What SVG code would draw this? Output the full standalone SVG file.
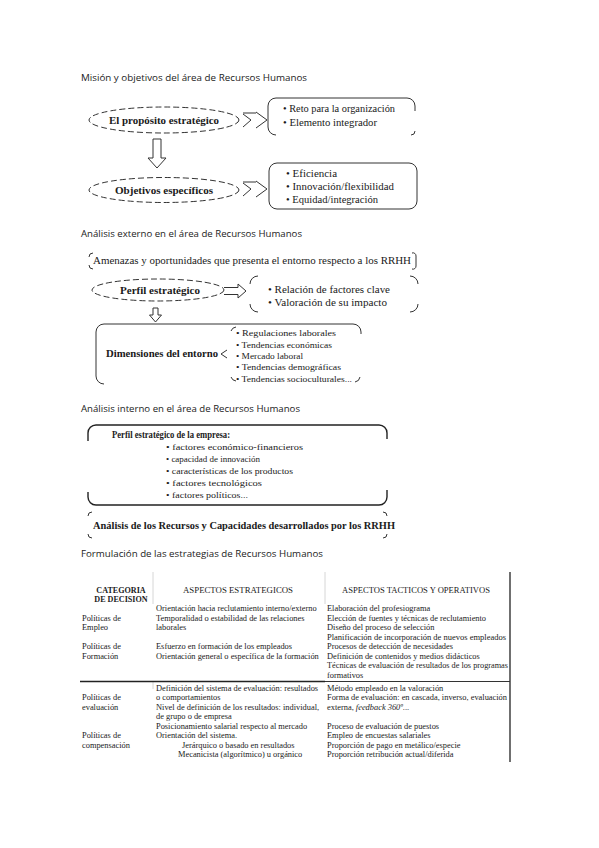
<svg xmlns="http://www.w3.org/2000/svg" width="599" height="848" viewBox="0 0 599 848">
<style>
.t{font-family:"Open Sans","Liberation Sans",sans-serif;font-size:9px;fill:#222}
.s{font-family:"Liberation Serif","Times New Roman",serif;fill:#1a1a1a}
.b{font-weight:bold}
.f10{font-size:10px}
.f105{font-size:10.5px}
.f9{font-size:9px}
.tb{font-size:8.4px}
.th{font-size:8.1px}
.dash{fill:none;stroke:#333;stroke-width:1;stroke-dasharray:6 3}
.ln{fill:none;stroke:#333;stroke-width:1}
.lnk{fill:none;stroke:#222;stroke-width:1.4}
.faint{stroke:#ccc;stroke-width:0.8}
</style>
<rect width="599" height="848" fill="#fff"/>

<!-- Section 1 -->
<text class="t" x="81" y="81" textLength="226" lengthAdjust="spacingAndGlyphs">Misión y objetivos del área de Recursos Humanos</text>
<g id="proposito">
<ellipse class="dash" cx="164" cy="120" rx="75" ry="13"/>
<text class="s b f10" x="164" y="124" text-anchor="middle" textLength="110" lengthAdjust="spacingAndGlyphs">El propósito estratégico</text>
</g>
<g id="reto">
<path class="ln" d="M276,135 A8,8 0 0 1 268,127 L268,106 A8,8 0 0 1 276,98 L407,98 A8,8 0 0 1 415,106 L415,111 M415,131 A4,4 0 0 1 411,135"/>
<text class="s f10" x="283" y="112" textLength="112" lengthAdjust="spacingAndGlyphs">• Reto para la organización</text>
<text class="s f10" x="283" y="126" textLength="94" lengthAdjust="spacingAndGlyphs">• Elemento integrador</text>
</g>
<g id="objetivos">
<ellipse class="dash" cx="164" cy="190" rx="75" ry="12.5"/>
<text class="s b f10" x="164" y="194" text-anchor="middle" textLength="98" lengthAdjust="spacingAndGlyphs">Objetivos específicos</text>
</g>
<g id="eficiencia">
<rect class="ln" x="269" y="163" width="148" height="46" rx="8"/>
<text class="s f10" x="286" y="177" textLength="51" lengthAdjust="spacingAndGlyphs">• Eficiencia</text>
<text class="s f10" x="286" y="190" textLength="108" lengthAdjust="spacingAndGlyphs">• Innovación/flexibilidad</text>
<text class="s f10" x="286" y="203" textLength="92" lengthAdjust="spacingAndGlyphs">• Equidad/integración</text>
</g>

<!-- Section 2 -->
<text class="t" x="81" y="237" textLength="221" lengthAdjust="spacingAndGlyphs">Análisis externo en el área de Recursos Humanos</text>
<g id="amenazas">
<path class="ln" d="M93,253 A4,4 0 0 0 89,257 M89,265 A4,4 0 0 0 93,269 M412,253 A3,3 0 0 1 416,256 L416,266 A3,3 0 0 1 412,269"/>
<text class="s f105" x="93" y="264" textLength="318" lengthAdjust="spacingAndGlyphs">Amenazas y oportunidades que presenta el entorno respecto a los RRHH</text>
</g>
<g id="perfil">
<ellipse class="dash" cx="158" cy="290" rx="66" ry="11"/>
<text class="s b f10" x="160" y="294" text-anchor="middle" textLength="80" lengthAdjust="spacingAndGlyphs">Perfil estratégico</text>
</g>
<g id="factores">
<path class="ln" d="M250,284 A8,8 0 0 1 258,276 M410,276 A8,8 0 0 1 418,284 M250,304 A8,8 0 0 0 258,312 M418,304 A8,8 0 0 1 410,312"/>
<text class="s f105" x="268" y="293" textLength="122" lengthAdjust="spacingAndGlyphs">• Relación de factores clave</text>
<text class="s f105" x="268" y="306" textLength="119" lengthAdjust="spacingAndGlyphs">• Valoración de su impacto</text>
</g>
<g id="dimensiones">
<path class="ln" d="M104,384 A8,8 0 0 1 96,376 L96,332 A8,8 0 0 1 104,324 L353,324 A8,8 0 0 1 361,332 L361,334"/>
<text class="s b f10" x="106" y="357" textLength="112" lengthAdjust="spacingAndGlyphs">Dimensiones del entorno</text>
<path class="ln" d="M227,350 L221,354 L227,358"/>
<path class="ln" d="M236,327 A6,6 0 0 0 231,331 M231,377 A6,6 0 0 0 236,381 M355,382 A6,6 0 0 0 360,377"/>
<text class="s f9" x="236" y="336" textLength="100" lengthAdjust="spacingAndGlyphs">• Regulaciones laborales</text>
<text class="s f9" x="236" y="347.5" textLength="96" lengthAdjust="spacingAndGlyphs">• Tendencias económicas</text>
<text class="s f9" x="236" y="358.5" textLength="67" lengthAdjust="spacingAndGlyphs">• Mercado laboral</text>
<text class="s f9" x="236" y="370" textLength="105" lengthAdjust="spacingAndGlyphs">• Tendencias demográficas</text>
<text class="s f9" x="236" y="381.5" textLength="116" lengthAdjust="spacingAndGlyphs">• Tendencias socioculturales...</text>
</g>

<!-- Section 3 -->
<text class="t" x="81" y="412" textLength="219" lengthAdjust="spacingAndGlyphs">Análisis interno en el área de Recursos Humanos</text>
<g id="perfil-empresa">
<path class="lnk" d="M88,441 L88,433 A8,8 0 0 1 96,425 L379,425 A8,8 0 0 1 387,433 L387,439 M88,492 L88,497 A8,8 0 0 0 96,505 L379,505 A8,8 0 0 0 387,497 L387,490"/>
<text class="s b f10" x="112" y="438" textLength="118" lengthAdjust="spacingAndGlyphs">Perfil estratégico de la empresa:</text>
<text class="s f9" x="166" y="449.5" textLength="137" lengthAdjust="spacingAndGlyphs">• factores económico-financieros</text>
<text class="s f9" x="166" y="461.5" textLength="94" lengthAdjust="spacingAndGlyphs">• capacidad de innovación</text>
<text class="s f9" x="166" y="473.5" textLength="127" lengthAdjust="spacingAndGlyphs">• características de los productos</text>
<text class="s f9" x="166" y="485.5" textLength="96" lengthAdjust="spacingAndGlyphs">• factores tecnológicos</text>
<text class="s f9" x="166" y="497.5" textLength="82" lengthAdjust="spacingAndGlyphs">• factores políticos...</text>
</g>
<g id="analisis-recursos">
<path class="ln" d="M88,516 A4,4 0 0 1 92,512 M383,512 A4,4 0 0 1 387,516 M88,534 A4,4 0 0 0 92,538 M387,534 A4,4 0 0 1 383,538"/>
<text class="s b f10" x="93" y="529" textLength="302" lengthAdjust="spacingAndGlyphs">Análisis de los Recursos y Capacidades desarrollados por los RRHH</text>
</g>

<!-- connectors -->
<g id="connectors">
<path class="ln" d="M243,113 L256,113 M256,112 L267,120 L256,128 M243,114 L251,120 L243,127"/>
<path class="ln" d="M243,182 L256,182 M256,181 L267,189 L256,197 M243,183 L251,189 L243,196"/>
<polygon class="ln" points="153,139 161,139 161,158 166,158 157,168 148,158 153,158"/>
<path class="ln" d="M224,287.5 L238,287.5 L238,284 L246,291 L238,298 L238,294.5 L224,294.5"/>
<polygon class="ln" points="153,308 158,308 158,315 161.5,315 155.5,322 149.5,315 153,315"/>
</g>

<!-- Section 4 -->
<text class="t" x="81" y="557" textLength="242" lengthAdjust="spacingAndGlyphs">Formulación de las estrategias de Recursos Humanos</text>
<g id="tabla">
<line class="faint" x1="153" y1="572" x2="153" y2="604"/>
<line class="faint" x1="325" y1="572" x2="325" y2="604"/>
<line class="faint" x1="153" y1="682" x2="153" y2="689"/>
<line x1="510" y1="572" x2="510" y2="762" stroke="#333" stroke-width="1.4"/>
<line x1="80" y1="681.5" x2="325" y2="681.5" stroke="#222" stroke-width="1.6"/>
<line x1="325" y1="681.5" x2="510" y2="681.5" stroke="#333" stroke-width="1"/>

<text class="s b th" x="121" y="593" text-anchor="middle">CATEGORIA</text>
<text class="s b th" x="121" y="602" text-anchor="middle">DE DECISION</text>
<text class="s th" x="238" y="593" text-anchor="middle" textLength="110" lengthAdjust="spacingAndGlyphs">ASPECTOS ESTRATEGICOS</text>
<text class="s th" x="416" y="593" text-anchor="middle" textLength="148" lengthAdjust="spacingAndGlyphs">ASPECTOS TACTICOS Y OPERATIVOS</text>

<text class="s tb" x="82" y="620.5">Políticas de</text>
<text class="s tb" x="82" y="630">Empleo</text>
<text class="s tb" x="82" y="649">Políticas de</text>
<text class="s tb" x="82" y="658.5">Formación</text>
<text class="s tb" x="82" y="700">Políticas de</text>
<text class="s tb" x="82" y="709.5">evaluación</text>
<text class="s tb" x="82" y="738">Políticas de</text>
<text class="s tb" x="82" y="747.5">compensación</text>

<text class="s tb" x="156" y="611">Orientación hacia reclutamiento interno/externo</text>
<text class="s tb" x="156" y="620.5">Temporalidad o estabilidad de las relaciones</text>
<text class="s tb" x="156" y="630">laborales</text>
<text class="s tb" x="156" y="649">Esfuerzo en formación de los empleados</text>
<text class="s tb" x="156" y="658.5">Orientación general o específica de la formación</text>
<text class="s tb" x="156" y="690.5">Definición del sistema de evaluación: resultados</text>
<text class="s tb" x="156" y="700">o comportamientos</text>
<text class="s tb" x="156" y="709.5">Nivel de definición de los resultados: individual,</text>
<text class="s tb" x="156" y="719">de grupo o de empresa</text>
<text class="s tb" x="156" y="728.5">Posicionamiento salarial respecto al mercado</text>
<text class="s tb" x="156" y="738">Orientación del sistema.</text>
<text class="s tb" x="182" y="747.5">Jerárquico o basado en resultados</text>
<text class="s tb" x="178" y="757">Mecanicista (algorítmico) u orgánico</text>

<text class="s tb" x="327" y="611">Elaboración del profesiograma</text>
<text class="s tb" x="327" y="620.5">Elección de fuentes y técnicas de reclutamiento</text>
<text class="s tb" x="327" y="630">Diseño del proceso de selección</text>
<text class="s tb" x="327" y="639.5" textLength="179" lengthAdjust="spacingAndGlyphs">Planificación de incorporación de nuevos empleados</text>
<text class="s tb" x="327" y="649">Procesos de detección de necesidades</text>
<text class="s tb" x="327" y="658.5">Definición de contenidos y medios didácticos</text>
<text class="s tb" x="327" y="668" textLength="181" lengthAdjust="spacingAndGlyphs">Técnicas de evaluación de resultados de los programas</text>
<text class="s tb" x="327" y="677.5">formativos</text>
<text class="s tb" x="327" y="690.5">Método empleado en la valoración</text>
<text class="s tb" x="327" y="700" textLength="180" lengthAdjust="spacingAndGlyphs">Forma de evaluación: en cascada, inverso, evaluación</text>
<text class="s tb" x="327" y="709.5">externa, <tspan font-style="italic">feedback 360º</tspan>...</text>
<text class="s tb" x="327" y="728.5">Proceso de evaluación de puestos</text>
<text class="s tb" x="327" y="738">Empleo de encuestas salariales</text>
<text class="s tb" x="327" y="747.5">Proporción de pago en metálico/especie</text>
<text class="s tb" x="327" y="757">Proporción retribución actual/diferida</text>
</g>
</svg>
